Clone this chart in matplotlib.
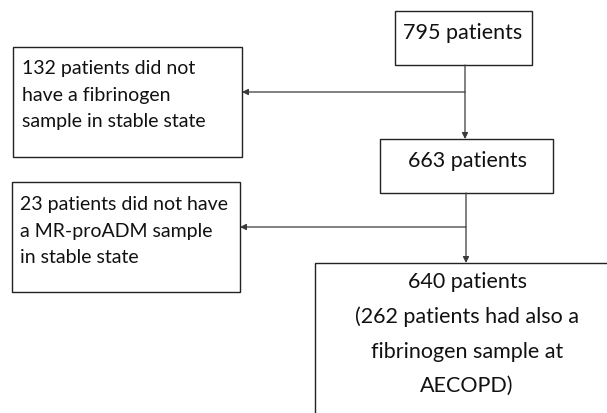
import matplotlib.pyplot as plt
from matplotlib.patches import Rectangle

plt.rcParams['font.family'] = ['Lato', 'DejaVu Sans']

# flowchart content
main_labels = ['795 patients', '663 patients',
               '640 patients\n(262 patients had also a\nfibrinogen sample at\nAECOPD)']
excluded_labels = ['132 patients did not\nhave a fibrinogen\nsample in stable state',
                   '23 patients did not have\na MR-proADM sample\nin stable state']

# layout in pixel coords (x0, y0, x1, y1), y downwards
main_boxes = [(395, 11, 532, 65), (380, 139, 553, 193), (315, 263, 640, 460)]
main_text_pos = [(463, 33), (467, 161), (467, 334)]
excl_boxes = [(13, 47, 242, 157), (12, 182, 240, 292)]
excl_text_pos = [(22, 95), (20, 231)]
branch_y = [92, 227]
trunk_x = [465, 466]

fig = plt.figure(figsize=(6.07, 4.13), dpi=100)
ax = fig.add_axes([0, 0, 1, 1])
ax.set_xlim(0, 607)
ax.set_ylim(413, 0)
ax.axis('off')

lc = '#3a3a3a'
for (x0, y0, x1, y1) in main_boxes + excl_boxes:
    ax.add_patch(Rectangle((x0, y0), x1 - x0, y1 - y0, fill=False,
                           edgecolor='#222222', linewidth=1.0, clip_on=True))

for (tx, ty), lab in zip(main_text_pos, main_labels):
    ax.text(tx, ty, lab, ha='center', va='center', fontsize=15.5,
            color='#111111', linespacing=1.9)

for (tx, ty), lab in zip(excl_text_pos, excluded_labels):
    ax.text(tx, ty, lab, ha='left', va='center', fontsize=14,
            color='#111111', linespacing=1.65)

arrow = dict(arrowstyle='-|>', color=lc, lw=0.9, mutation_scale=9,
             shrinkA=0, shrinkB=0)
for i in range(2):
    top = main_boxes[i][3]
    bottom = main_boxes[i + 1][1]
    x = trunk_x[i]
    ax.annotate('', xy=(x, bottom), xytext=(x, top), arrowprops=arrow)
    ax.annotate('', xy=(excl_boxes[i][2], branch_y[i]), xytext=(x, branch_y[i]),
                arrowprops=arrow)

fig.savefig('out.png', dpi=100, facecolor='white')
